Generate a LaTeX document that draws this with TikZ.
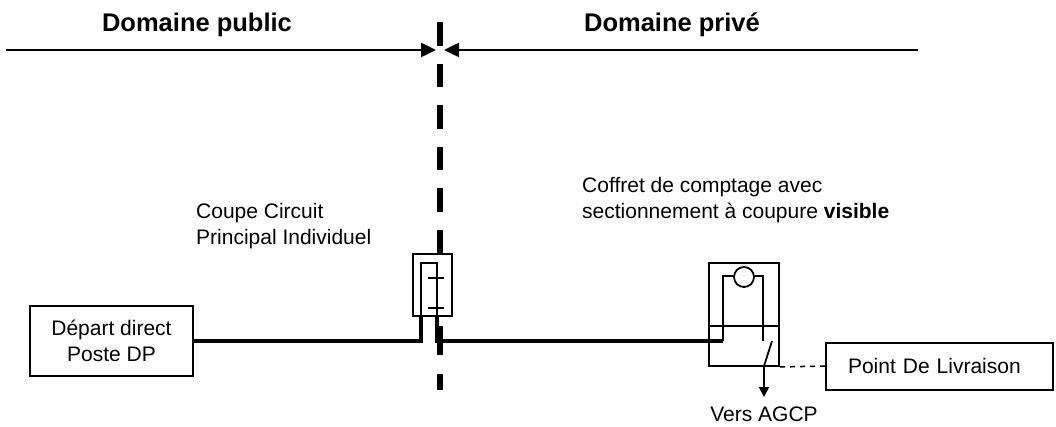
\documentclass[tikz,border=0pt]{standalone}
\usepackage{fontspec}
\setmainfont{Liberation Sans}
\usetikzlibrary{arrows.meta, positioning, calc}
\tikzset{
    domaintitle/.style={font=\fontsize{25.5}{30}\selectfont\bfseries, anchor=base, inner sep=0pt},
    caption/.style={font=\fontsize{21}{25.5}\selectfont, align=left, anchor=north west, inner sep=0pt},
    device/.style={rectangle, draw, line width=2pt, fill=white, inner sep=0pt},
    plainbox/.style={rectangle, draw, line width=2pt, fill=white, font=\fontsize{21}{25.5}\selectfont, align=center, inner sep=0pt},
    limit/.style={-{Triangle[length=15pt, width=14pt]}, line width=2.5pt},
    feeder/.style={line width=4pt},
    wire/.style={line width=1.8pt},
    boundary/.style={line width=6pt},
    linkdash/.style={line width=1.5pt, dash pattern=on 5pt off 5pt},
}
\begin{document}
\begin{tikzpicture}[x=1pt, y=-1pt]
    \useasboundingbox (0,0) rectangle (1056,427);
    % limite domaine public / prive
    \coordinate (btop) at (440,22);
    \coordinate (bmid) at (440,254);
    \coordinate (blow) at (440,326);
    \coordinate (bend) at (440,390);
    \draw[boundary, dash pattern=on 23.6pt off 18pt] (btop) -- (bmid);
    \draw[boundary, dash pattern=on 29pt off 19pt] (blow) -- (bend);

    \node[domaintitle] (pub) at (197,32) {Domaine public};
    \node[domaintitle] (priv) at (672,32) {Domaine privé};
    \coordinate (lft) at (6,50);
    \coordinate (rgt) at (918,50);
    \coordinate (tipl) at (436,50);
    \coordinate (tipr) at (444,50);
    \draw[limit] (lft) -- (tipl);
    \draw[limit] (rgt) -- (tipr);

    \node[plainbox, minimum width=163pt, minimum height=70pt] (dep) at (111.5,341) {Départ direct\\Poste DP};
    \node[device, minimum width=39pt, minimum height=62pt] (ccpi) at (432.5,285) {};
    \node[device, minimum width=70pt, minimum height=103pt] (cpt) at (744,314.5) {};
    \node[plainbox, minimum width=227pt, minimum height=47pt, text width=183pt, align=left, inner xsep=22pt] (pdl) at (939.5,366) {Point De Livraison};

    \node[caption] (lblccpi) at (196,203.5) {Coupe Circuit\\Principal Individuel};
    \node[caption] (lblcpt) at (582,177.5) {Coffret de comptage avec\\sectionnement à coupure \textbf{visible}};
    \node[font=\fontsize{21}{25.5}\selectfont, anchor=base, inner sep=0pt] (agcp) at (764,421) {Vers AGCP};

    % coupe circuit
    \coordinate (ccpiin) at (421,316);
    \coordinate (ccpiout) at (437,316);
    \draw[wire] (ccpiin) -- (421,263) -- (437,263) -- (ccpiout);
    \draw[wire] (428,278) -- (444,278);
    \draw[wire] (428,308) -- (444,308);

    % coffret de comptage
    \coordinate (cptin) at (723,341);
    \coordinate (sw) at (764,366);
    \coordinate (out) at (764,397);
    \draw[wire] (cpt.west |- 0,326) -- (cpt.east |- 0,326);
    \draw[wire] (cptin) -- (723,276) -- (763,276) -- (763,341);
    \draw[wire, fill=white] (744,277) circle (10pt);
    \draw[wire] (772,341) -- (sw);
    \draw[wire, -{Triangle[length=10pt, width=10pt]}] (sw) -- (out);

    \draw[feeder] (dep.east) -| (ccpiin);
    \draw[feeder] (ccpiout) |- (cptin);
    \draw[linkdash] (cpt.south east) -- (pdl.west);
\end{tikzpicture}
\end{document}
